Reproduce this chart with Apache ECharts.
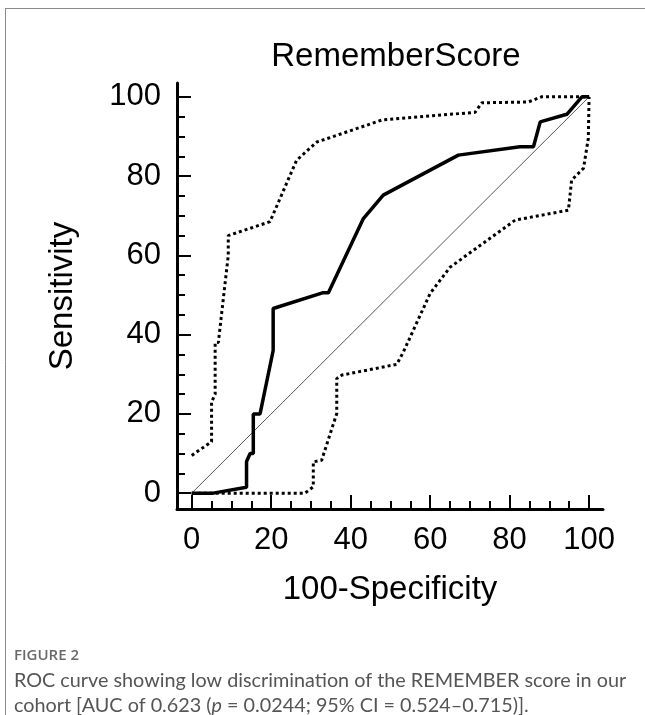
<!DOCTYPE html>
<html>
<head>
<meta charset="utf-8">
<script src="https://cdn.jsdelivr.net/npm/echarts@6/dist/echarts.min.js"></script>
<style>
  html, body { margin: 0; padding: 0; background: #fff; }
  #main { width: 645px; height: 715px; }
</style>
</head>
<body>
<div id="main"></div>
<script>
// ROC curve: [100-specificity, sensitivity]
var rocCurve = [[0, 0], [5.4, 0], [13.8, 1.5], [13.8, 8], [14.7, 10], [15.5, 10], [15.5, 20], [17.2, 20],
  [20.5, 36], [20.5, 46.6], [33.1, 50.6], [34.4, 50.6], [43.2, 69.3], [48.2, 75.2], [67.1, 85.3],
  [82.6, 87.4], [86, 87.4], [87.7, 93.7], [94.4, 95.6], [98.2, 100], [100, 100]];
// 95% CI bands (dotted)
var upperCI = [[0, 9.5], [5, 13], [5, 23], [5.9, 25], [5.9, 38], [6.7, 38], [9.2, 60], [9.2, 65],
  [19.7, 68.5], [26.4, 84], [31.5, 88.6], [48, 94.2], [71.3, 96.1], [73, 98.5], [84.7, 98.7],
  [88, 100], [100, 100]];
var lowerCI = [[0, 0], [5, 0], [28.5, 0], [30.6, 1.6], [30.6, 7.9], [32.7, 8.3], [36.5, 20.1],
  [36.5, 28.9], [37.8, 29.8], [51.6, 32.5], [53.3, 35.7], [60, 50.4], [65, 57], [81.4, 68.9],
  [94.8, 71.4], [95.6, 79], [98.6, 82], [99.8, 89.5], [100, 100]];
var diagonal = [[0, 0], [100, 100]];

var majorTicks = [0, 20, 40, 60, 80, 100];
var minorTicks = [5, 10, 15, 25, 30, 35, 45, 50, 55, 65, 70, 75, 85, 90, 95];

var font = '"Liberation Sans", Arial, sans-serif';

var myChart = echarts.init(document.getElementById('main'));

function axisPair(dim, min, max) {
  var main = {
    type: 'value', min: min, max: max, gridIndex: 0,
    position: dim === 'x' ? 'bottom' : 'left',
    axisLine: { show: true, onZero: false, lineStyle: { color: '#000', width: 3 } },
    axisTick: { show: true, inside: true, length: 14, customValues: majorTicks, lineStyle: { color: '#000', width: 2 } },
    axisLabel: { show: true, customValues: majorTicks, color: '#000', fontSize: 31, fontFamily: font, margin: dim === 'x' ? 16 : 16 },
    splitLine: { show: false }
  };
  var minor = {
    type: 'value', min: min, max: max, gridIndex: 0,
    position: dim === 'x' ? 'bottom' : 'left',
    axisLine: { show: false, onZero: false },
    axisTick: { show: true, inside: true, length: 8, customValues: minorTicks, lineStyle: { color: '#000', width: 2 } },
    axisLabel: { show: false },
    splitLine: { show: false }
  };
  return [main, minor];
}

var xAxes = axisPair('x', -3.7, 103.5);
xAxes[0].name = '100-Specificity';
xAxes[0].nameLocation = 'middle';
xAxes[0].nameGap = 64;
xAxes[0].nameTextStyle = { fontSize: 33, color: '#000', fontFamily: font };

var yAxes = axisPair('y', -4.0, 103.5);
yAxes[0].name = 'Sensitivity';
yAxes[0].nameLocation = 'middle';
yAxes[0].nameGap = 98;
yAxes[0].nameTextStyle = { fontSize: 33, color: '#000', fontFamily: font };

function band(data) {
  return {
    type: 'line', data: data, showSymbol: false, silent: true,
    lineStyle: { color: '#000', width: 3, type: [3, 3] }
  };
}

myChart.setOption({
  animation: false,
  title: {
    text: 'RememberScore',
    left: 391, top: 35, textAlign: 'center',
    textStyle: { fontSize: 33, fontWeight: 'normal', color: '#000', fontFamily: font }
  },
  grid: { left: 177, top: 83, width: 426, height: 426 },
  xAxis: xAxes,
  yAxis: yAxes,
  series: [
    {
      type: 'line', data: diagonal, showSymbol: false, silent: true,
      lineStyle: { color: '#555', width: 1 }
    },
    band(upperCI),
    band(lowerCI),
    {
      type: 'line', data: rocCurve, showSymbol: false, silent: true, z: 5,
      lineStyle: { color: '#000', width: 3.5 }
    }
  ],
  graphic: [
    { type: 'line', shape: { x1: 5, y1: 8.5, x2: 645, y2: 8.5 }, style: { stroke: '#8a8a8a', lineWidth: 1 } },
    { type: 'line', shape: { x1: 5.5, y1: 8, x2: 5.5, y2: 715 }, style: { stroke: '#8a8a8a', lineWidth: 1 } },
    {
      type: 'text', left: 14, top: 648,
      style: { text: 'FIGURE 2', fontSize: 15, fontWeight: 600, fill: '#6a6a6a', fontFamily: '"Open Sans", sans-serif' }
    },
    {
      type: 'text', left: 14, top: 671,
      style: { text: 'ROC curve showing low discrimination of the REMEMBER score in our', fontSize: 19.8, fill: '#555', fontFamily: 'Lato, "Open Sans", sans-serif' }
    },
    {
      type: 'text', left: 14, top: 696,
      style: {
        text: 'cohort [AUC of 0.623 ({i|p} = 0.0244; 95% CI = 0.524\u20130.715)].',
        fontSize: 19.8, fill: '#555', fontFamily: 'Lato, "Open Sans", sans-serif',
        rich: { i: { fontStyle: 'italic', fontSize: 19.8, fill: '#555', fontFamily: 'Lato, "Open Sans", sans-serif' } }
      }
    }
  ]
});
</script>
</body>
</html>
